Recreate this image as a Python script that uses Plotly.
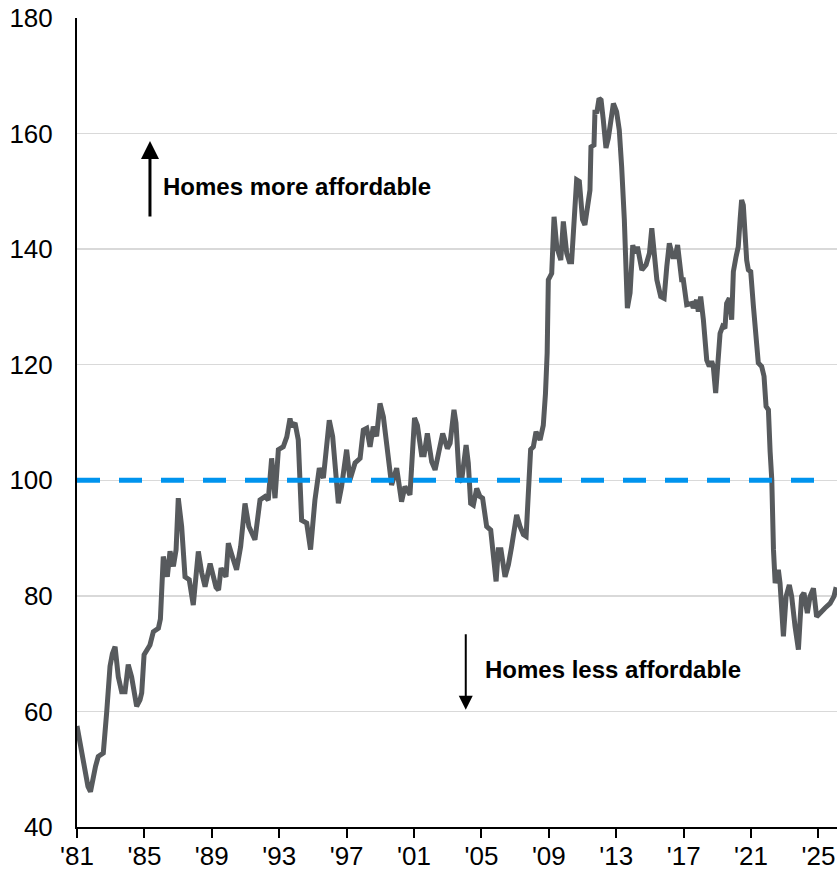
import plotly.graph_objects as go

# Housing affordability index (decimal year, index value)
anos = [
    1981.00, 1981.10, 1981.30, 1981.47, 1981.65, 1981.80, 1981.97, 1982.10, 1982.26, 1982.56,
    1982.76, 1982.96, 1983.10, 1983.26, 1983.45, 1983.65, 1983.85, 1984.04, 1984.24, 1984.54,
    1984.74, 1984.84, 1984.98, 1985.33, 1985.53, 1985.83, 1985.95, 1986.12, 1986.36, 1986.52,
    1986.72, 1986.88, 1987.01, 1987.21, 1987.41, 1987.66, 1987.90, 1988.20, 1988.40, 1988.60,
    1988.90, 1989.25, 1989.40, 1989.55, 1989.84, 1989.98, 1990.20, 1990.47, 1990.71, 1990.97,
    1991.20, 1991.46, 1991.56, 1991.86, 1992.16, 1992.35, 1992.55, 1992.75, 1992.95, 1993.24,
    1993.45, 1993.64, 1993.74, 1993.94, 1994.13, 1994.33, 1994.63, 1994.86, 1995.12, 1995.38,
    1995.62, 1995.97, 1996.17, 1996.51, 1996.70, 1997.00, 1997.20, 1997.50, 1997.80, 1997.99,
    1998.19, 1998.39, 1998.58, 1998.78, 1998.98, 1999.18, 1999.47, 1999.67, 1999.97, 2000.26,
    2000.46, 2000.76, 2001.03, 2001.20, 2001.45, 2001.60, 2001.79, 2002.05, 2002.25, 2002.44,
    2002.70, 2002.98, 2003.14, 2003.37, 2003.49, 2003.69, 2003.83, 2004.09, 2004.22, 2004.36,
    2004.52, 2004.72, 2004.91, 2005.07, 2005.31, 2005.55, 2005.71, 2005.87, 2006.00, 2006.16,
    2006.40, 2006.60, 2006.79, 2007.09, 2007.29, 2007.49, 2007.65, 2007.78, 2007.92, 2008.08,
    2008.24, 2008.48, 2008.67, 2008.80, 2008.90, 2008.97, 2009.17, 2009.31, 2009.47, 2009.71,
    2009.86, 2010.06, 2010.22, 2010.35, 2010.45, 2010.65, 2010.81, 2011.00, 2011.14, 2011.28,
    2011.44, 2011.50, 2011.68, 2011.74, 2011.84, 2011.98, 2012.10, 2012.23, 2012.39, 2012.53,
    2012.67, 2012.83, 2013.02, 2013.18, 2013.32, 2013.48, 2013.66, 2013.82, 2013.98, 2014.12,
    2014.26, 2014.52, 2014.77, 2014.97, 2015.11, 2015.25, 2015.41, 2015.64, 2015.84, 2016.00,
    2016.15, 2016.35, 2016.50, 2016.64, 2016.88, 2016.98, 2017.08, 2017.18, 2017.48, 2017.57,
    2017.77, 2017.87, 2018.01, 2018.17, 2018.37, 2018.52, 2018.66, 2018.76, 2018.90, 2019.02,
    2019.16, 2019.31, 2019.45, 2019.55, 2019.71, 2019.85, 2019.95, 2020.11, 2020.24, 2020.35,
    2020.44, 2020.54, 2020.64, 2020.74, 2020.84, 2020.98, 2021.14, 2021.30, 2021.43, 2021.63,
    2021.77, 2021.89, 2022.03, 2022.13, 2022.23, 2022.33, 2022.43, 2022.62, 2022.72, 2022.92,
    2023.08, 2023.27, 2023.41, 2023.61, 2023.81, 2023.91, 2024.00, 2024.14, 2024.34, 2024.50,
    2024.70, 2024.89, 2025.13, 2025.39, 2025.69, 2025.92, 2026.05,
]
indice = [
    57.5, 56.0, 52.5, 49.4, 47.0, 46.1, 49.4, 50.5, 52.2, 52.8,
    59.8, 67.8, 70.0, 71.2, 66.0, 63.4, 63.4, 68.1, 66.0, 60.9,
    62.0, 63.2, 69.8, 71.5, 73.8, 74.4, 76.0, 86.8, 83.3, 87.7,
    85.1, 88.0, 96.9, 92.0, 83.3, 82.8, 78.4, 87.7, 84.0, 81.6,
    85.6, 81.5, 81.0, 84.8, 83.3, 89.1, 87.0, 84.5, 88.5, 96.0,
    92.0, 90.0, 89.7, 96.6, 97.2, 96.6, 103.8, 96.9, 105.3, 105.8,
    107.5, 110.7, 109.3, 109.9, 107.0, 93.1, 92.6, 88.0, 96.6, 102.1,
    100.4, 110.4, 107.6, 96.0, 98.9, 105.3, 100.1, 103.0, 103.8, 108.7,
    109.0, 105.8, 109.3, 107.6, 113.3, 111.0, 104.1, 99.2, 102.1, 96.3,
    98.9, 97.5, 110.8, 109.5, 104.4, 104.4, 108.1, 103.2, 101.8, 104.4,
    108.1, 105.5, 106.4, 112.2, 109.9, 99.8, 100.1, 106.1, 103.0, 96.0,
    95.7, 98.6, 97.2, 96.9, 92.0, 91.4, 87.4, 82.5, 88.0, 88.0,
    83.3, 85.4, 88.5, 94.0, 92.0, 90.6, 90.3, 97.2, 105.3, 105.8,
    108.4, 107.0, 109.5, 115.0, 122.0, 134.7, 135.8, 145.6, 140.4, 138.1,
    144.8, 139.3, 137.8, 137.8, 143.9, 152.0, 151.7, 145.1, 144.2, 147.9,
    150.2, 157.7, 158.0, 164.1, 163.5, 166.1, 165.8, 162.4, 157.5, 159.2,
    162.4, 165.2, 163.8, 160.6, 154.3, 145.1, 129.8, 132.4, 140.7, 139.3,
    140.4, 136.4, 137.3, 139.3, 143.6, 139.3, 134.7, 131.8, 131.5, 137.0,
    141.0, 138.7, 138.7, 140.7, 134.7, 134.7, 132.4, 130.4, 130.6, 129.8,
    131.2, 129.2, 131.8, 127.8, 120.8, 119.7, 120.6, 119.7, 115.1, 120.0,
    125.4, 126.6, 126.3, 130.6, 131.5, 127.8, 136.1, 138.7, 140.4, 145.1,
    148.5, 147.6, 141.6, 138.1, 136.4, 136.1, 130.1, 124.3, 120.3, 119.7,
    118.0, 112.8, 112.2, 105.0, 100.1, 88.0, 82.2, 84.5, 82.2, 73.0,
    79.9, 81.9, 79.9, 74.7, 70.7, 75.8, 79.9, 80.5, 77.0, 79.9,
    81.3, 76.4, 77.0, 77.9, 78.7, 79.9, 81.5,
]

# Eixo X: rótulos a cada 4 anos
anos_ticks = list(range(1981, 2026, 4))
rotulos_ticks = ["'" + str(a)[2:] for a in anos_ticks]

nivel_ref = 100

fig = go.Figure()

# Linha de referência (100) tracejada
fig.add_shape(
    type="line", xref="x", yref="y",
    x0=1981, x1=2025.8, y0=nivel_ref, y1=nivel_ref,
    line=dict(color="#0094EE", width=5, dash="23px,19px"),
    layer="above",
)

fig.add_trace(go.Scatter(
    x=anos, y=indice, mode="lines",
    line=dict(color="#575A5D", width=5),
    hoverinfo="skip", showlegend=False,
))

# Setas e textos
fig.add_annotation(
    x=1985.33, y=158.7, ax=1985.33, ay=145.4, xref="x", yref="y", axref="x", ayref="y",
    text="", showarrow=True, arrowhead=2, arrowsize=1.2, arrowwidth=3, arrowcolor="black",
)
fig.add_annotation(
    x=1986.0, y=150.8, xref="x", yref="y", xanchor="left", yanchor="middle",
    text="<b>Homes more affordable</b>", showarrow=False,
    font=dict(size=24, color="black", family="Liberation Sans, Arial"),
)
fig.add_annotation(
    x=2004.07, y=60.3, ax=2004.07, ay=73.6, xref="x", yref="y", axref="x", ayref="y",
    text="", showarrow=True, arrowhead=2, arrowsize=1.4, arrowwidth=2, arrowcolor="black",
)
fig.add_annotation(
    x=2005.1, y=67.2, xref="x", yref="y", xanchor="left", yanchor="middle",
    text="<b>Homes less affordable</b>", showarrow=False,
    font=dict(size=24, color="black", family="Liberation Sans, Arial"),
)

fig.update_layout(
    width=838, height=873,
    margin=dict(l=77, r=1, t=18, b=46),
    plot_bgcolor="white", paper_bgcolor="white",
    font=dict(family="Liberation Sans, Arial", size=26, color="black"),
)
fig.update_xaxes(
    range=[1981, 2026.1], tickvals=anos_ticks, ticktext=rotulos_ticks,
    showgrid=False, zeroline=False,
    showline=True, linecolor="black", linewidth=2,
    ticks="outside", ticklen=9, tickwidth=2, tickcolor="black",
    ticklabelstandoff=-4,
    automargin=False,
)
fig.update_yaxes(
    range=[40, 180], dtick=20, tick0=40,
    showgrid=True, gridcolor="#D9D9D9", gridwidth=1.3, zeroline=False,
    showline=True, linecolor="black", linewidth=2,
    ticks="", ticklabelstandoff=17,
    automargin=False,
)

# a página tem margem padrão de 8px no body; zerar para alinhar
fig.write_html(
    "out.html",
    config={"displayModeBar": False, "staticPlot": True},
    post_script="document.body.style.margin='0';",
)
